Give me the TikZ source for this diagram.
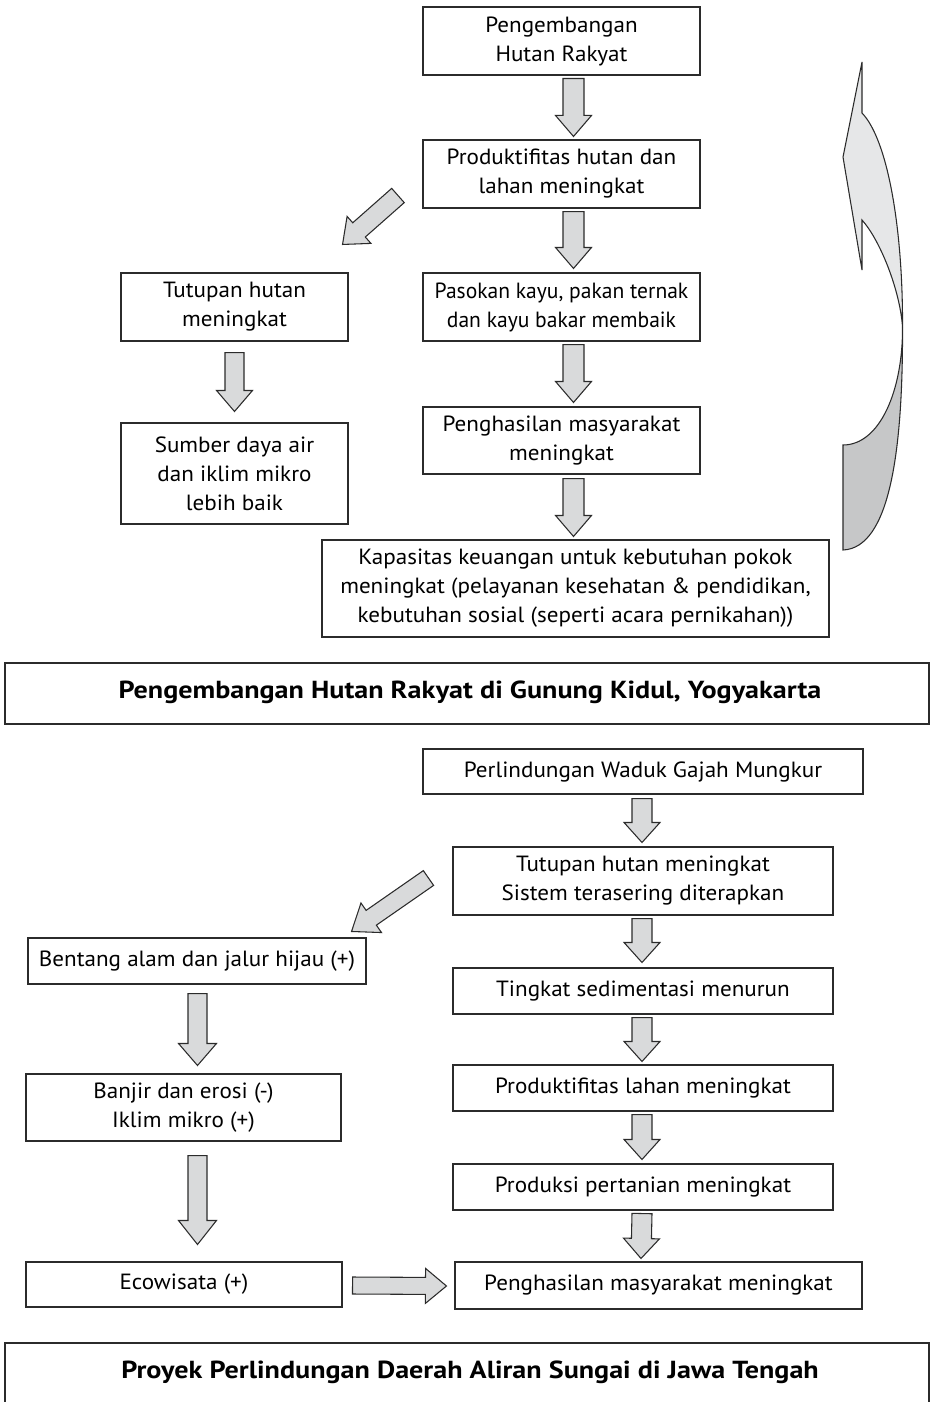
\documentclass[tikz,border=0pt]{standalone}
\usepackage{fontspec}
\setmainfont[FakeStretch=1.05]{PT Sans}
\newfontfamily\narrowfont[FakeStretch=0.98]{PT Sans}
\newfontfamily\titlefont[FakeStretch=1.14]{PT Sans}
\usetikzlibrary{calc}

\definecolor{linegray}{HTML}{2B2B2B}
\definecolor{arrowfill}{HTML}{D9DADB}
\definecolor{ribbonlight}{HTML}{E6E7E8}
\definecolor{ribbondark}{HTML}{C6C7C8}

\tikzset{
  box/.style={draw=linegray, line width=0.8pt, fill=white, align=center,
              inner sep=0pt, font=\fontsize{16.5}{21.75}\selectfont},
  titlebox/.style={draw=linegray, line width=1.3pt, inner sep=0pt},
  titletext/.style={inner sep=0pt, font=\titlefont\fontsize{18.5}{22}\selectfont\bfseries},
  blockarrow/.style={draw=linegray, line width=0.8pt, fill=arrowfill, line join=miter},
  ribbon/.style={draw=linegray, line width=0.8pt, line join=miter},
}

% block arrow: tail, tip, shaft width, head width, head length (in px units)
\newcommand\barrow[5]{%
  \path ($(#2)!{#5*0.75pt}!(#1)$) coordinate (ahead);
  \draw[blockarrow]
    ($(#1)!{#3*0.375pt}!90:(#2)$)
    -- ($(ahead)!{#3*0.375pt}!90:(#2)$)
    -- ($(ahead)!{#4*0.375pt}!90:(#2)$)
    -- (#2)
    -- ($(ahead)!{#4*0.375pt}!-90:(#2)$)
    -- ($(ahead)!{#3*0.375pt}!-90:(#2)$)
    -- ($(#1)!{#3*0.375pt}!-90:(#2)$)
    -- cycle;}

\begin{document}
\begin{tikzpicture}[x=0.75pt, y=-0.75pt]
\useasboundingbox (0,0) rectangle (931,1402);

% ---------- Gunung Kidul ----------
\node[box, minimum width={277*0.75pt}, minimum height={68*0.75pt}] (b1) at (561.5,41)
  {Pengembangan\\Hutan Rakyat};
\node[box, minimum width={277*0.75pt}, minimum height={68*0.75pt}] (b2) at (561.5,174)
  {Produktifitas hutan dan\\lahan meningkat};
\node[box, minimum width={227*0.75pt}, minimum height={68*0.75pt}] (b3) at (234.5,307)
  {Tutupan hutan\\meningkat};
\node[box, minimum width={277*0.75pt}, minimum height={68*0.75pt},
      font=\narrowfont\fontsize{16.5}{21.75}\selectfont] (b4) at (561.5,307)
  {Pasokan kayu, pakan ternak\\dan kayu bakar membaik};
\node[box, minimum width={227*0.75pt}, minimum height={101*0.75pt}] (b5) at (234.5,473.5)
  {Sumber daya air\\dan iklim mikro\\lebih baik};
\node[box, minimum width={277*0.75pt}, minimum height={67*0.75pt}] (b6) at (561.5,440.5)
  {Penghasilan masyarakat\\meningkat};
\node[box, minimum width={507*0.75pt}, minimum height={97*0.75pt}] (b7) at (575.5,588.5)
  {Kapasitas keuangan untuk kebutuhan pokok\\meningkat (pelayanan kesehatan \& pendidikan,\\kebutuhan sosial (seperti acara pernikahan))};

\coordinate (p1s) at ($(b1.south)+(12,3)$);  \coordinate (p1e) at ($(b2.north)+(12,-3)$);
\coordinate (p2s) at ($(b2.south)+(12,3)$);  \coordinate (p2e) at ($(b4.north)+(12,-4)$);
\coordinate (p3s) at ($(b4.south)+(12,3)$);  \coordinate (p3e) at ($(b6.north)+(12,-4)$);
\coordinate (p4s) at ($(b6.south)+(12,4)$);  \coordinate (p4e) at ($(b7.north)+(-2,-3)$);
\coordinate (p5s) at ($(b3.south)+(0,11)$);  \coordinate (p5e) at ($(b5.north)+(0,-11)$);
\coordinate (p6s) at ($(b2.west)+(-24.5,21.5)$); \coordinate (p6e) at ($(b3.north east)+(-6,-28)$);

\barrow{p1s}{p1e}{21}{36}{21}
\barrow{p2s}{p2e}{21}{36}{21}
\barrow{p3s}{p3e}{21}{36}{21}
\barrow{p4s}{p4e}{21}{36}{21}
\barrow{p5s}{p5e}{19}{36}{21}
\barrow{p6s}{p6e}{19}{36}{22}

% curved return arrow, light rising part with head, darker lower part
\draw[ribbon, fill=ribbonlight]
  (862,62) -- (862,113)
  .. controls (888,140) and (903,230) .. (902.5,327)
  .. controls (900,290) and (880,240) .. (862,220)
  -- (862,270) -- (843,157) -- cycle;
\draw[ribbon, fill=ribbondark]
  (902.5,327) .. controls (903,450) and (890,548) .. (843,550)
  -- (843,445)
  .. controls (880,445) and (903,390) .. (902.5,327);

\node[titlebox, minimum width={924*0.75pt}, minimum height={61*0.75pt}] (t1) at (467,693.5) {};
\node[titletext] (t1txt) at (470,692)
  {Pengembangan Hutan Rakyat di Gunung Kidul, Yogyakarta};

% ---------- Jawa Tengah ----------
\node[box, minimum width={440*0.75pt}, minimum height={45*0.75pt}] (c1) at (643,771.5)
  {Perlindungan Waduk Gajah Mungkur};
\node[box, minimum width={380*0.75pt}, minimum height={68*0.75pt}] (c2) at (643,881)
  {Tutupan hutan meningkat\\Sistem terasering diterapkan};
\node[box, minimum width={338*0.75pt}, minimum height={46*0.75pt}] (c3) at (197,961)
  {Bentang alam dan jalur hijau (+)};
\node[box, minimum width={380*0.75pt}, minimum height={46*0.75pt}] (c4) at (643,991)
  {Tingkat sedimentasi menurun};
\node[box, minimum width={380*0.75pt}, minimum height={46*0.75pt}] (c5) at (643,1088)
  {Produktifitas lahan meningkat};
\node[box, minimum width={380*0.75pt}, minimum height={46*0.75pt}] (c6) at (643,1187)
  {Produksi pertanian meningkat};
\node[box, minimum width={407*0.75pt}, minimum height={47*0.75pt}] (c7) at (658.5,1285.5)
  {Penghasilan masyarakat meningkat};
\node[box, minimum width={315*0.75pt}, minimum height={67*0.75pt}] (c8) at (183.5,1107.5)
  {Banjir dan erosi (-)\\Iklim mikro (+)};
\node[box, minimum width={316*0.75pt}, minimum height={45*0.75pt}] (c9) at (184,1284.5)
  {Ecowisata (+)};

\coordinate (q1s) at ($(c1.south)+(-1,4)$);  \coordinate (q1e) at ($(c2.north)+(-1,-4)$);
\coordinate (q2s) at ($(c2.south)+(-1,3)$);  \coordinate (q2e) at ($(c4.north)+(-1,-5)$);
\coordinate (q3s) at ($(c4.south)+(-1,3)$);  \coordinate (q3e) at ($(c5.north)+(-1,-3)$);
\coordinate (q4s) at ($(c5.south)+(-1,3)$);  \coordinate (q4e) at ($(c6.north)+(-1,-4)$);
\coordinate (q5s) at ($(c6.south)+(-1,3)$);  \coordinate (q5e) at ($(c7.north)+(-17.5,-3)$);
\coordinate (q6s) at ($(c2.west)+(-24,-3)$); \coordinate (q6e) at ($(c3.north east)+(-15,-6)$);
\coordinate (q7s) at ($(c3.south)+(0.5,9)$); \coordinate (q7e) at ($(c8.north)+(14,-8)$);
\coordinate (q8s) at ($(c8.south)+(14,14)$); \coordinate (q8e) at ($(c9.north)+(13.5,-17)$);
\coordinate (q9s) at ($(c9.east)+(10,1)$);   \coordinate (q9e) at ($(c7.west)+(-8,0.5)$);

\barrow{q1s}{q1e}{20}{36}{20}
\barrow{q2s}{q2e}{20}{36}{20}
\barrow{q3s}{q3e}{20}{36}{20}
\barrow{q4s}{q4e}{20}{36}{20}
\barrow{q5s}{q5e}{20}{36}{20}
\barrow{q6s}{q6e}{18}{36}{24}
\barrow{q7s}{q7e}{19}{38}{22}
\barrow{q8s}{q8e}{19}{38}{24}
\barrow{q9s}{q9e}{17}{35}{21}

\node[titlebox, minimum width={924*0.75pt}, minimum height={61*0.75pt}] (t2) at (467,1373.5) {};
\node[titletext] (t2txt) at (470,1372)
  {Proyek Perlindungan Daerah Aliran Sungai di Jawa Tengah};
\end{tikzpicture}
\end{document}
